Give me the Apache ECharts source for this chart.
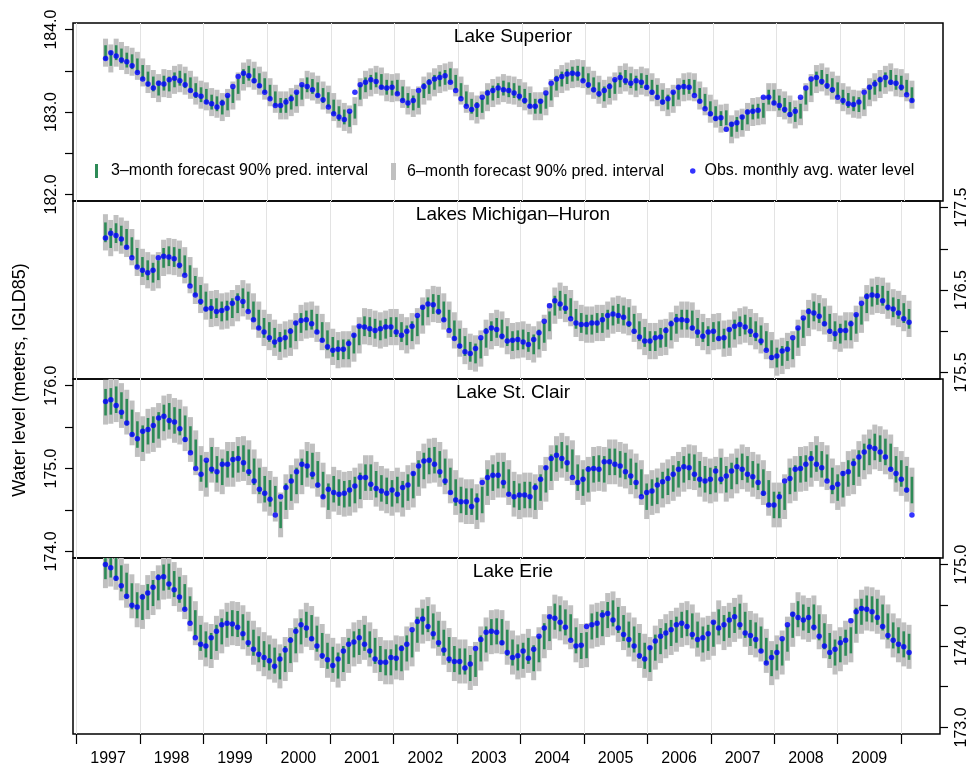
<!DOCTYPE html>
<html>
<head>
<meta charset="utf-8">
<title>Great Lakes water level forecasts</title>
<script src="https://cdn.jsdelivr.net/npm/echarts@6/dist/echarts.min.js"></script>
<style>
  html, body { margin: 0; padding: 0; background: #fff; }
  #chart { width: 970px; height: 767px; }
</style>
</head>
<body>
<div id="chart"></div>
<script>
// monthly values, June 1997 .. February 2010 (153 months)
const firstYear = 1997;
const firstMonth = 5; // 0 = January

const yearTicks = [1997, 1998, 1999, 2000, 2001, 2002, 2003, 2004, 2005, 2006, 2007, 2008, 2009, 2010];
const yearLabels = [1997, 1998, 1999, 2000, 2001, 2002, 2003, 2004, 2005, 2006, 2007, 2008, 2009];

// ---- Lake Superior ----
const supObs = [
  183.65, 183.72, 183.68, 183.63, 183.61, 183.56, 183.48,
  183.40, 183.34, 183.29, 183.35, 183.34, 183.39, 183.41, 183.38, 183.33, 183.26, 183.21, 183.19,
  183.12, 183.10, 183.06, 183.11, 183.20, 183.31, 183.43, 183.47, 183.44, 183.38, 183.32, 183.24,
  183.16, 183.08, 183.08, 183.12, 183.16, 183.24, 183.33, 183.31, 183.27, 183.20, 183.15, 183.06,
  182.98, 182.94, 182.91, 183.01, 183.24, 183.33, 183.36, 183.39, 183.37, 183.30, 183.29, 183.30,
  183.22, 183.14, 183.11, 183.14, 183.26, 183.31, 183.36, 183.40, 183.42, 183.44, 183.36, 183.26,
  183.16, 183.07, 183.03, 183.08, 183.18, 183.23, 183.26, 183.29, 183.27, 183.26, 183.23, 183.19,
  183.14, 183.07, 183.07, 183.13, 183.23, 183.35, 183.40, 183.43, 183.46, 183.47, 183.46, 183.38,
  183.33, 183.27, 183.22, 183.26, 183.31, 183.39, 183.42, 183.38, 183.35, 183.38, 183.36, 183.30,
  183.24, 183.18, 183.12, 183.16, 183.24, 183.30, 183.31, 183.30, 183.20, 183.13, 183.04, 182.98,
  182.92, 182.93, 182.79, 182.85, 182.87, 182.94, 183.00, 183.01, 183.02, 183.18, 183.18, 183.11,
  183.08, 183.03, 182.97, 183.01, 183.18, 183.29, 183.40, 183.42, 183.37, 183.32, 183.27, 183.18,
  183.14, 183.10, 183.09, 183.12, 183.24, 183.30, 183.34, 183.39, 183.42, 183.36, 183.35, 183.30,
  183.21, 183.14
];
const supG3Lo = [
  183.63, 183.56, 183.63, 183.59, 183.54, 183.52, 183.47, 183.39,
  183.31, 183.25, 183.20, 183.26, 183.25, 183.30, 183.32, 183.29, 183.24, 183.17, 183.12, 183.10,
  183.03, 183.01, 182.97, 183.02, 183.11, 183.22, 183.34, 183.38, 183.35, 183.29, 183.23, 183.15,
  183.07, 182.99, 182.99, 183.03, 183.07, 183.15, 183.24, 183.22, 183.18, 183.11, 183.06, 182.97,
  182.89, 182.85, 182.82, 182.92, 183.15, 183.24, 183.27, 183.30, 183.28, 183.21, 183.20, 183.21,
  183.13, 183.05, 183.02, 183.05, 183.17, 183.22, 183.27, 183.31, 183.33, 183.35, 183.27, 183.17,
  183.07, 182.98, 182.94, 182.99, 183.09, 183.14, 183.17, 183.20, 183.18, 183.17, 183.14, 183.10,
  183.05, 182.98, 182.98, 183.04, 183.14, 183.26, 183.31, 183.34, 183.37, 183.38, 183.37, 183.29,
  183.24, 183.18, 183.13, 183.17, 183.22, 183.30, 183.33, 183.29, 183.26, 183.29, 183.27, 183.21,
  183.15, 183.09, 183.03, 183.07, 183.15, 183.21, 183.22, 183.21, 183.11, 183.04, 182.95, 182.89,
  182.83, 182.84, 182.70, 182.76, 182.78, 182.85, 182.91, 182.92, 182.93, 183.09, 183.09, 183.02,
  182.99, 182.94, 182.88, 182.92, 183.09, 183.20, 183.31, 183.33, 183.28, 183.23, 183.18, 183.09,
  183.05, 183.01, 183.00, 183.03, 183.15, 183.21, 183.25, 183.30, 183.33, 183.27, 183.26, 183.21,
  183.12
];
const supG3Hi = [
  183.81, 183.74, 183.81, 183.77, 183.72, 183.70, 183.65, 183.57,
  183.49, 183.43, 183.38, 183.44, 183.43, 183.48, 183.50, 183.47, 183.42, 183.35, 183.30, 183.28,
  183.21, 183.19, 183.15, 183.20, 183.29, 183.40, 183.52, 183.56, 183.53, 183.47, 183.41, 183.33,
  183.25, 183.17, 183.17, 183.21, 183.25, 183.33, 183.42, 183.40, 183.36, 183.29, 183.24, 183.15,
  183.07, 183.03, 183.00, 183.10, 183.33, 183.42, 183.45, 183.48, 183.46, 183.39, 183.38, 183.39,
  183.31, 183.23, 183.20, 183.23, 183.35, 183.40, 183.45, 183.49, 183.51, 183.53, 183.45, 183.35,
  183.25, 183.16, 183.12, 183.17, 183.27, 183.32, 183.35, 183.38, 183.36, 183.35, 183.32, 183.28,
  183.23, 183.16, 183.16, 183.22, 183.32, 183.44, 183.49, 183.52, 183.55, 183.56, 183.55, 183.47,
  183.42, 183.36, 183.31, 183.35, 183.40, 183.48, 183.51, 183.47, 183.44, 183.47, 183.45, 183.39,
  183.33, 183.27, 183.21, 183.25, 183.33, 183.39, 183.40, 183.39, 183.29, 183.22, 183.13, 183.07,
  183.01, 183.02, 182.88, 182.94, 182.96, 183.03, 183.09, 183.10, 183.11, 183.27, 183.27, 183.20,
  183.17, 183.12, 183.06, 183.10, 183.27, 183.38, 183.49, 183.51, 183.46, 183.41, 183.36, 183.27,
  183.23, 183.19, 183.18, 183.21, 183.33, 183.39, 183.43, 183.48, 183.51, 183.45, 183.44, 183.39,
  183.30
];
const supG6Lo = [
  183.55, 183.48, 183.55, 183.51, 183.46, 183.44, 183.39, 183.31,
  183.23, 183.17, 183.12, 183.18, 183.17, 183.22, 183.24, 183.21, 183.16, 183.09, 183.04, 183.02,
  182.95, 182.93, 182.89, 182.94, 183.03, 183.14, 183.26, 183.30, 183.27, 183.21, 183.15, 183.07,
  182.99, 182.91, 182.91, 182.95, 182.99, 183.07, 183.16, 183.14, 183.10, 183.03, 182.98, 182.89,
  182.81, 182.77, 182.74, 182.84, 183.07, 183.16, 183.19, 183.22, 183.20, 183.13, 183.12, 183.13,
  183.05, 182.97, 182.94, 182.97, 183.09, 183.14, 183.19, 183.23, 183.25, 183.27, 183.19, 183.09,
  182.99, 182.90, 182.86, 182.91, 183.01, 183.06, 183.09, 183.12, 183.10, 183.09, 183.06, 183.02,
  182.97, 182.90, 182.90, 182.96, 183.06, 183.18, 183.23, 183.26, 183.29, 183.30, 183.29, 183.21,
  183.16, 183.10, 183.05, 183.09, 183.14, 183.22, 183.25, 183.21, 183.18, 183.21, 183.19, 183.13,
  183.07, 183.01, 182.95, 182.99, 183.07, 183.13, 183.14, 183.13, 183.03, 182.96, 182.87, 182.81,
  182.75, 182.76, 182.62, 182.68, 182.70, 182.77, 182.83, 182.84, 182.85, 183.01, 183.01, 182.94,
  182.91, 182.86, 182.80, 182.84, 183.01, 183.12, 183.23, 183.25, 183.20, 183.15, 183.10, 183.01,
  182.97, 182.93, 182.92, 182.95, 183.07, 183.13, 183.17, 183.22, 183.25, 183.19, 183.18, 183.13,
  183.04
];
const supG6Hi = [
  183.89, 183.82, 183.89, 183.85, 183.80, 183.78, 183.73, 183.65,
  183.57, 183.51, 183.46, 183.52, 183.51, 183.56, 183.58, 183.55, 183.50, 183.43, 183.38, 183.36,
  183.29, 183.27, 183.23, 183.28, 183.37, 183.48, 183.60, 183.64, 183.61, 183.55, 183.49, 183.41,
  183.33, 183.25, 183.25, 183.29, 183.33, 183.41, 183.50, 183.48, 183.44, 183.37, 183.32, 183.23,
  183.15, 183.11, 183.08, 183.18, 183.41, 183.50, 183.53, 183.56, 183.54, 183.47, 183.46, 183.47,
  183.39, 183.31, 183.28, 183.31, 183.43, 183.48, 183.53, 183.57, 183.59, 183.61, 183.53, 183.43,
  183.33, 183.24, 183.20, 183.25, 183.35, 183.40, 183.43, 183.46, 183.44, 183.43, 183.40, 183.36,
  183.31, 183.24, 183.24, 183.30, 183.40, 183.52, 183.57, 183.60, 183.63, 183.64, 183.63, 183.55,
  183.50, 183.44, 183.39, 183.43, 183.48, 183.56, 183.59, 183.55, 183.52, 183.55, 183.53, 183.47,
  183.41, 183.35, 183.29, 183.33, 183.41, 183.47, 183.48, 183.47, 183.37, 183.30, 183.21, 183.15,
  183.09, 183.10, 182.96, 183.02, 183.04, 183.11, 183.17, 183.18, 183.19, 183.35, 183.35, 183.28,
  183.25, 183.20, 183.14, 183.18, 183.35, 183.46, 183.57, 183.59, 183.54, 183.49, 183.44, 183.35,
  183.31, 183.27, 183.26, 183.29, 183.41, 183.47, 183.51, 183.56, 183.59, 183.53, 183.52, 183.47,
  183.38
];

// ---- Lakes Michigan-Huron ----
const mhObs = [
  177.13, 177.19, 177.16, 177.12, 177.02, 176.89, 176.78,
  176.74, 176.71, 176.74, 176.89, 176.91, 176.90, 176.88, 176.80, 176.68, 176.55, 176.44, 176.36,
  176.27, 176.28, 176.24, 176.25, 176.28, 176.34, 176.40, 176.36, 176.24, 176.14, 176.04, 175.99,
  175.92, 175.87, 175.90, 175.92, 176.00, 176.10, 176.13, 176.14, 176.09, 175.99, 175.89, 175.81,
  175.77, 175.78, 175.78, 175.85, 175.95, 176.06, 176.05, 176.03, 176.01, 176.03, 176.05, 176.05,
  175.99, 175.95, 176.00, 176.06, 176.19, 176.29, 176.33, 176.32, 176.24, 176.14, 176.01, 175.91,
  175.82, 175.75, 175.73, 175.79, 175.92, 176.00, 176.04, 176.02, 175.94, 175.88, 175.89, 175.90,
  175.87, 175.84, 175.90, 175.98, 176.12, 176.31, 176.37, 176.33, 176.28, 176.15, 176.10, 176.08,
  176.08, 176.10, 176.10, 176.14, 176.19, 176.21, 176.19, 176.17, 176.09, 176.00, 175.93, 175.88,
  175.88, 175.92, 175.93, 176.01, 176.09, 176.14, 176.14, 176.13, 176.04, 175.99, 175.94, 175.99,
  176.00, 175.91, 175.92, 176.02, 176.06, 176.08, 176.05, 176.00, 175.95, 175.88, 175.77, 175.68,
  175.70, 175.76, 175.78, 175.92, 176.04, 176.16, 176.24, 176.22, 176.18, 176.09, 176.00, 175.97,
  176.01, 176.01, 176.09, 176.20, 176.34, 176.42, 176.44, 176.43, 176.37, 176.29, 176.27, 176.22,
  176.15, 176.11
];
const mhG3Lo = [
  177.08, 177.01, 177.07, 177.04, 177.00, 176.90, 176.77, 176.66,
  176.62, 176.59, 176.62, 176.77, 176.79, 176.78, 176.76, 176.68, 176.56, 176.43, 176.32, 176.24,
  176.15, 176.16, 176.12, 176.13, 176.16, 176.22, 176.28, 176.24, 176.12, 176.02, 175.92, 175.87,
  175.80, 175.75, 175.78, 175.80, 175.88, 175.98, 176.01, 176.02, 175.97, 175.87, 175.77, 175.69,
  175.65, 175.66, 175.66, 175.73, 175.83, 175.94, 175.93, 175.91, 175.89, 175.91, 175.93, 175.93,
  175.87, 175.83, 175.88, 175.94, 176.07, 176.17, 176.21, 176.20, 176.12, 176.02, 175.89, 175.79,
  175.70, 175.63, 175.61, 175.67, 175.80, 175.88, 175.92, 175.90, 175.82, 175.76, 175.77, 175.78,
  175.75, 175.72, 175.78, 175.86, 176.00, 176.19, 176.25, 176.21, 176.16, 176.03, 175.98, 175.96,
  175.96, 175.98, 175.98, 176.02, 176.07, 176.09, 176.07, 176.05, 175.97, 175.88, 175.81, 175.76,
  175.76, 175.80, 175.81, 175.89, 175.97, 176.02, 176.02, 176.01, 175.92, 175.87, 175.82, 175.87,
  175.88, 175.79, 175.80, 175.90, 175.94, 175.96, 175.93, 175.88, 175.83, 175.76, 175.65, 175.56,
  175.58, 175.64, 175.66, 175.80, 175.92, 176.04, 176.12, 176.10, 176.06, 175.97, 175.88, 175.85,
  175.89, 175.89, 175.97, 176.08, 176.22, 176.30, 176.32, 176.31, 176.25, 176.17, 176.15, 176.10,
  176.03
];
const mhG3Hi = [
  177.32, 177.25, 177.31, 177.28, 177.24, 177.14, 177.01, 176.90,
  176.86, 176.83, 176.86, 177.01, 177.03, 177.02, 177.00, 176.92, 176.80, 176.67, 176.56, 176.48,
  176.39, 176.40, 176.36, 176.37, 176.40, 176.46, 176.52, 176.48, 176.36, 176.26, 176.16, 176.11,
  176.04, 175.99, 176.02, 176.04, 176.12, 176.22, 176.25, 176.26, 176.21, 176.11, 176.01, 175.93,
  175.89, 175.90, 175.90, 175.97, 176.07, 176.18, 176.17, 176.15, 176.13, 176.15, 176.17, 176.17,
  176.11, 176.07, 176.12, 176.18, 176.31, 176.41, 176.45, 176.44, 176.36, 176.26, 176.13, 176.03,
  175.94, 175.87, 175.85, 175.91, 176.04, 176.12, 176.16, 176.14, 176.06, 176.00, 176.01, 176.02,
  175.99, 175.96, 176.02, 176.10, 176.24, 176.43, 176.49, 176.45, 176.40, 176.27, 176.22, 176.20,
  176.20, 176.22, 176.22, 176.26, 176.31, 176.33, 176.31, 176.29, 176.21, 176.12, 176.05, 176.00,
  176.00, 176.04, 176.05, 176.13, 176.21, 176.26, 176.26, 176.25, 176.16, 176.11, 176.06, 176.11,
  176.12, 176.03, 176.04, 176.14, 176.18, 176.20, 176.17, 176.12, 176.07, 176.00, 175.89, 175.80,
  175.82, 175.88, 175.90, 176.04, 176.16, 176.28, 176.36, 176.34, 176.30, 176.21, 176.12, 176.09,
  176.13, 176.13, 176.21, 176.32, 176.46, 176.54, 176.56, 176.55, 176.49, 176.41, 176.39, 176.34,
  176.27
];
const mhG6Lo = [
  176.98, 176.91, 176.97, 176.94, 176.90, 176.80, 176.67, 176.56,
  176.52, 176.49, 176.52, 176.67, 176.69, 176.68, 176.66, 176.58, 176.46, 176.33, 176.22, 176.14,
  176.05, 176.06, 176.02, 176.03, 176.06, 176.12, 176.18, 176.14, 176.02, 175.92, 175.82, 175.77,
  175.70, 175.65, 175.68, 175.70, 175.78, 175.88, 175.91, 175.92, 175.87, 175.77, 175.67, 175.59,
  175.55, 175.56, 175.56, 175.63, 175.73, 175.84, 175.83, 175.81, 175.79, 175.81, 175.83, 175.83,
  175.77, 175.73, 175.78, 175.84, 175.97, 176.07, 176.11, 176.10, 176.02, 175.92, 175.79, 175.69,
  175.60, 175.53, 175.51, 175.57, 175.70, 175.78, 175.82, 175.80, 175.72, 175.66, 175.67, 175.68,
  175.65, 175.62, 175.68, 175.76, 175.90, 176.09, 176.15, 176.11, 176.06, 175.93, 175.88, 175.86,
  175.86, 175.88, 175.88, 175.92, 175.97, 175.99, 175.97, 175.95, 175.87, 175.78, 175.71, 175.66,
  175.66, 175.70, 175.71, 175.79, 175.87, 175.92, 175.92, 175.91, 175.82, 175.77, 175.72, 175.77,
  175.78, 175.69, 175.70, 175.80, 175.84, 175.86, 175.83, 175.78, 175.73, 175.66, 175.55, 175.46,
  175.48, 175.54, 175.56, 175.70, 175.82, 175.94, 176.02, 176.00, 175.96, 175.87, 175.78, 175.75,
  175.79, 175.79, 175.87, 175.98, 176.12, 176.20, 176.22, 176.21, 176.15, 176.07, 176.05, 176.00,
  175.93
];
const mhG6Hi = [
  177.42, 177.35, 177.41, 177.38, 177.34, 177.24, 177.11, 177.00,
  176.96, 176.93, 176.96, 177.11, 177.13, 177.12, 177.10, 177.02, 176.90, 176.77, 176.66, 176.58,
  176.49, 176.50, 176.46, 176.47, 176.50, 176.56, 176.62, 176.58, 176.46, 176.36, 176.26, 176.21,
  176.14, 176.09, 176.12, 176.14, 176.22, 176.32, 176.35, 176.36, 176.31, 176.21, 176.11, 176.03,
  175.99, 176.00, 176.00, 176.07, 176.17, 176.28, 176.27, 176.25, 176.23, 176.25, 176.27, 176.27,
  176.21, 176.17, 176.22, 176.28, 176.41, 176.51, 176.55, 176.54, 176.46, 176.36, 176.23, 176.13,
  176.04, 175.97, 175.95, 176.01, 176.14, 176.22, 176.26, 176.24, 176.16, 176.10, 176.11, 176.12,
  176.09, 176.06, 176.12, 176.20, 176.34, 176.53, 176.59, 176.55, 176.50, 176.37, 176.32, 176.30,
  176.30, 176.32, 176.32, 176.36, 176.41, 176.43, 176.41, 176.39, 176.31, 176.22, 176.15, 176.10,
  176.10, 176.14, 176.15, 176.23, 176.31, 176.36, 176.36, 176.35, 176.26, 176.21, 176.16, 176.21,
  176.22, 176.13, 176.14, 176.24, 176.28, 176.30, 176.27, 176.22, 176.17, 176.10, 175.99, 175.90,
  175.92, 175.98, 176.00, 176.14, 176.26, 176.38, 176.46, 176.44, 176.40, 176.31, 176.22, 176.19,
  176.23, 176.23, 176.31, 176.42, 176.56, 176.64, 176.66, 176.65, 176.59, 176.51, 176.49, 176.44,
  176.37
];

// ---- Lake St. Clair ----
const scObs = [
  175.81, 175.83, 175.76, 175.68, 175.55, 175.41, 175.36,
  175.45, 175.47, 175.52, 175.61, 175.63, 175.58, 175.56, 175.48, 175.35, 175.19, 175.00, 174.93,
  175.10, 174.99, 174.96, 175.05, 175.05, 175.11, 175.12, 175.07, 174.96, 174.85, 174.75, 174.70,
  174.63, 174.44, 174.66, 174.77, 174.85, 174.96, 175.05, 175.03, 174.93, 174.80, 174.66, 174.75,
  174.71, 174.69, 174.70, 174.74, 174.79, 174.89, 174.89, 174.81, 174.76, 174.73, 174.70, 174.74,
  174.69, 174.77, 174.80, 174.94, 175.03, 175.09, 175.10, 175.05, 174.96, 174.85, 174.71, 174.62,
  174.60, 174.60, 174.54, 174.62, 174.83, 174.89, 174.92, 174.92, 174.83, 174.69, 174.66, 174.68,
  174.68, 174.66, 174.77, 174.87, 175.01, 175.12, 175.16, 175.12, 175.07, 174.89, 174.83, 174.87,
  174.99, 175.00, 174.99, 175.08, 175.08, 175.05, 175.03, 174.96, 174.91, 174.83, 174.66, 174.71,
  174.73, 174.80, 174.84, 174.88, 174.93, 174.99, 175.02, 175.01, 174.93, 174.87, 174.85, 174.87,
  174.97, 174.87, 174.91, 174.97, 175.02, 174.99, 174.93, 174.90, 174.83, 174.70, 174.56, 174.56,
  174.66, 174.85, 174.88, 174.99, 175.00, 175.05, 175.12, 175.05, 175.01, 174.85, 174.77, 174.81,
  174.94, 174.96, 175.06, 175.14, 175.20, 175.26, 175.24, 175.20, 175.14, 174.99, 174.94, 174.87,
  174.74, 174.44
];
const scG3Lo = [
  175.64, 175.65, 175.67, 175.60, 175.52, 175.39, 175.25, 175.20,
  175.29, 175.31, 175.36, 175.45, 175.47, 175.42, 175.40, 175.32, 175.19, 175.03, 174.84, 174.77,
  174.94, 174.83, 174.80, 174.89, 174.89, 174.95, 174.96, 174.91, 174.80, 174.69, 174.59, 174.54,
  174.47, 174.28, 174.50, 174.61, 174.69, 174.80, 174.89, 174.87, 174.77, 174.64, 174.50, 174.59,
  174.55, 174.53, 174.54, 174.58, 174.63, 174.73, 174.73, 174.65, 174.60, 174.57, 174.54, 174.58,
  174.53, 174.61, 174.64, 174.78, 174.87, 174.93, 174.94, 174.89, 174.80, 174.69, 174.55, 174.46,
  174.44, 174.44, 174.38, 174.46, 174.67, 174.73, 174.76, 174.76, 174.67, 174.53, 174.50, 174.52,
  174.52, 174.50, 174.61, 174.71, 174.85, 174.96, 175.00, 174.96, 174.91, 174.73, 174.67, 174.71,
  174.83, 174.84, 174.83, 174.92, 174.92, 174.89, 174.87, 174.80, 174.75, 174.67, 174.50, 174.55,
  174.57, 174.64, 174.68, 174.72, 174.77, 174.83, 174.86, 174.85, 174.77, 174.71, 174.69, 174.71,
  174.81, 174.71, 174.75, 174.81, 174.86, 174.83, 174.77, 174.74, 174.67, 174.54, 174.40, 174.40,
  174.50, 174.69, 174.72, 174.83, 174.84, 174.89, 174.96, 174.89, 174.85, 174.69, 174.61, 174.65,
  174.78, 174.80, 174.90, 174.98, 175.04, 175.10, 175.08, 175.04, 174.98, 174.83, 174.78, 174.71,
  174.58
];
const scG3Hi = [
  175.96, 175.97, 175.99, 175.92, 175.84, 175.71, 175.57, 175.52,
  175.61, 175.63, 175.68, 175.77, 175.79, 175.74, 175.72, 175.64, 175.51, 175.35, 175.16, 175.09,
  175.26, 175.15, 175.12, 175.21, 175.21, 175.27, 175.28, 175.23, 175.12, 175.01, 174.91, 174.86,
  174.79, 174.60, 174.82, 174.93, 175.01, 175.12, 175.21, 175.19, 175.09, 174.96, 174.82, 174.91,
  174.87, 174.85, 174.86, 174.90, 174.95, 175.05, 175.05, 174.97, 174.92, 174.89, 174.86, 174.90,
  174.85, 174.93, 174.96, 175.10, 175.19, 175.25, 175.26, 175.21, 175.12, 175.01, 174.87, 174.78,
  174.76, 174.76, 174.70, 174.78, 174.99, 175.05, 175.08, 175.08, 174.99, 174.85, 174.82, 174.84,
  174.84, 174.82, 174.93, 175.03, 175.17, 175.28, 175.32, 175.28, 175.23, 175.05, 174.99, 175.03,
  175.15, 175.16, 175.15, 175.24, 175.24, 175.21, 175.19, 175.12, 175.07, 174.99, 174.82, 174.87,
  174.89, 174.96, 175.00, 175.04, 175.09, 175.15, 175.18, 175.17, 175.09, 175.03, 175.01, 175.03,
  175.13, 175.03, 175.07, 175.13, 175.18, 175.15, 175.09, 175.06, 174.99, 174.86, 174.72, 174.72,
  174.82, 175.01, 175.04, 175.15, 175.16, 175.21, 175.28, 175.21, 175.17, 175.01, 174.93, 174.97,
  175.10, 175.12, 175.22, 175.30, 175.36, 175.42, 175.40, 175.36, 175.30, 175.15, 175.10, 175.03,
  174.90
];
const scG6Lo = [
  175.53, 175.54, 175.56, 175.49, 175.41, 175.28, 175.14, 175.09,
  175.18, 175.20, 175.25, 175.34, 175.36, 175.31, 175.29, 175.21, 175.08, 174.92, 174.73, 174.66,
  174.83, 174.72, 174.69, 174.78, 174.78, 174.84, 174.85, 174.80, 174.69, 174.58, 174.48, 174.43,
  174.36, 174.17, 174.39, 174.50, 174.58, 174.69, 174.78, 174.76, 174.66, 174.53, 174.39, 174.48,
  174.44, 174.42, 174.43, 174.47, 174.52, 174.62, 174.62, 174.54, 174.49, 174.46, 174.43, 174.47,
  174.42, 174.50, 174.53, 174.67, 174.76, 174.82, 174.83, 174.78, 174.69, 174.58, 174.44, 174.35,
  174.33, 174.33, 174.27, 174.35, 174.56, 174.62, 174.65, 174.65, 174.56, 174.42, 174.39, 174.41,
  174.41, 174.39, 174.50, 174.60, 174.74, 174.85, 174.89, 174.85, 174.80, 174.62, 174.56, 174.60,
  174.72, 174.73, 174.72, 174.81, 174.81, 174.78, 174.76, 174.69, 174.64, 174.56, 174.39, 174.44,
  174.46, 174.53, 174.57, 174.61, 174.66, 174.72, 174.75, 174.74, 174.66, 174.60, 174.58, 174.60,
  174.70, 174.60, 174.64, 174.70, 174.75, 174.72, 174.66, 174.63, 174.56, 174.43, 174.29, 174.29,
  174.39, 174.58, 174.61, 174.72, 174.73, 174.78, 174.85, 174.78, 174.74, 174.58, 174.50, 174.54,
  174.67, 174.69, 174.79, 174.87, 174.93, 174.99, 174.97, 174.93, 174.87, 174.72, 174.67, 174.60,
  174.47
];
const scG6Hi = [
  176.07, 176.08, 176.10, 176.03, 175.95, 175.82, 175.68, 175.63,
  175.72, 175.74, 175.79, 175.88, 175.90, 175.85, 175.83, 175.75, 175.62, 175.46, 175.27, 175.20,
  175.37, 175.26, 175.23, 175.32, 175.32, 175.38, 175.39, 175.34, 175.23, 175.12, 175.02, 174.97,
  174.90, 174.71, 174.93, 175.04, 175.12, 175.23, 175.32, 175.30, 175.20, 175.07, 174.93, 175.02,
  174.98, 174.96, 174.97, 175.01, 175.06, 175.16, 175.16, 175.08, 175.03, 175.00, 174.97, 175.01,
  174.96, 175.04, 175.07, 175.21, 175.30, 175.36, 175.37, 175.32, 175.23, 175.12, 174.98, 174.89,
  174.87, 174.87, 174.81, 174.89, 175.10, 175.16, 175.19, 175.19, 175.10, 174.96, 174.93, 174.95,
  174.95, 174.93, 175.04, 175.14, 175.28, 175.39, 175.43, 175.39, 175.34, 175.16, 175.10, 175.14,
  175.26, 175.27, 175.26, 175.35, 175.35, 175.32, 175.30, 175.23, 175.18, 175.10, 174.93, 174.98,
  175.00, 175.07, 175.11, 175.15, 175.20, 175.26, 175.29, 175.28, 175.20, 175.14, 175.12, 175.14,
  175.24, 175.14, 175.18, 175.24, 175.29, 175.26, 175.20, 175.17, 175.10, 174.97, 174.83, 174.83,
  174.93, 175.12, 175.15, 175.26, 175.27, 175.32, 175.39, 175.32, 175.28, 175.12, 175.04, 175.08,
  175.21, 175.23, 175.33, 175.41, 175.47, 175.53, 175.51, 175.47, 175.41, 175.26, 175.21, 175.14,
  175.01
];

// ---- Lake Erie ----
const erObs = [
  175.00, 174.96, 174.83, 174.74, 174.61, 174.50, 174.48,
  174.60, 174.65, 174.72, 174.84, 174.85, 174.76, 174.69, 174.60, 174.45, 174.28, 174.10, 174.02,
  174.00, 174.10, 174.18, 174.26, 174.28, 174.27, 174.23, 174.15, 174.04, 173.96, 173.90, 173.86,
  173.82, 173.75, 173.84, 173.95, 174.07, 174.18, 174.26, 174.22, 174.09, 174.00, 173.88, 173.83,
  173.76, 173.84, 173.94, 174.02, 174.05, 174.10, 174.02, 173.94, 173.84, 173.80, 173.80, 173.86,
  173.85, 173.97, 174.02, 174.20, 174.30, 174.33, 174.24, 174.15, 174.04, 173.95, 173.84, 173.81,
  173.81, 173.73, 173.78, 173.97, 174.08, 174.17, 174.18, 174.17, 174.04, 173.92, 173.86, 173.88,
  173.94, 173.85, 173.96, 174.12, 174.22, 174.36, 174.34, 174.29, 174.23, 174.07, 174.00, 174.01,
  174.24, 174.26, 174.28, 174.38, 174.40, 174.32, 174.22, 174.14, 174.08, 174.00, 173.88, 173.84,
  173.98, 174.06, 174.12, 174.16, 174.20, 174.26, 174.28, 174.24, 174.14, 174.08, 174.10, 174.15,
  174.29, 174.22, 174.26, 174.32, 174.36, 174.26, 174.16, 174.13, 174.08, 173.94, 173.79, 173.86,
  173.92, 174.09, 174.26, 174.39, 174.35, 174.32, 174.35, 174.23, 174.12, 174.00, 173.92, 173.96,
  174.04, 174.07, 174.31, 174.42, 174.46, 174.45, 174.42, 174.35, 174.24, 174.13, 174.07, 174.02,
  173.99, 173.92
];
const erG3Lo = [
  174.82, 174.84, 174.80, 174.67, 174.58, 174.45, 174.34, 174.32,
  174.44, 174.49, 174.56, 174.68, 174.69, 174.60, 174.53, 174.44, 174.29, 174.12, 173.94, 173.86,
  173.84, 173.94, 174.02, 174.10, 174.12, 174.11, 174.07, 173.99, 173.88, 173.80, 173.74, 173.70,
  173.66, 173.59, 173.68, 173.79, 173.91, 174.02, 174.10, 174.06, 173.93, 173.84, 173.72, 173.67,
  173.60, 173.68, 173.78, 173.86, 173.89, 173.94, 173.86, 173.78, 173.68, 173.64, 173.64, 173.70,
  173.69, 173.81, 173.86, 174.04, 174.14, 174.17, 174.08, 173.99, 173.88, 173.79, 173.68, 173.65,
  173.65, 173.57, 173.62, 173.81, 173.92, 174.01, 174.02, 174.01, 173.88, 173.76, 173.70, 173.72,
  173.78, 173.69, 173.80, 173.96, 174.06, 174.20, 174.18, 174.13, 174.07, 173.91, 173.84, 173.85,
  174.08, 174.10, 174.12, 174.22, 174.24, 174.16, 174.06, 173.98, 173.92, 173.84, 173.72, 173.68,
  173.82, 173.90, 173.96, 174.00, 174.04, 174.10, 174.12, 174.08, 173.98, 173.92, 173.94, 173.99,
  174.13, 174.06, 174.10, 174.16, 174.20, 174.10, 174.00, 173.97, 173.92, 173.78, 173.63, 173.70,
  173.76, 173.93, 174.10, 174.23, 174.19, 174.16, 174.19, 174.07, 173.96, 173.84, 173.76, 173.80,
  173.88, 173.91, 174.15, 174.26, 174.30, 174.29, 174.26, 174.19, 174.08, 173.97, 173.91, 173.86,
  173.83
];
const erG3Hi = [
  175.14, 175.16, 175.12, 174.99, 174.90, 174.77, 174.66, 174.64,
  174.76, 174.81, 174.88, 175.00, 175.01, 174.92, 174.85, 174.76, 174.61, 174.44, 174.26, 174.18,
  174.16, 174.26, 174.34, 174.42, 174.44, 174.43, 174.39, 174.31, 174.20, 174.12, 174.06, 174.02,
  173.98, 173.91, 174.00, 174.11, 174.23, 174.34, 174.42, 174.38, 174.25, 174.16, 174.04, 173.99,
  173.92, 174.00, 174.10, 174.18, 174.21, 174.26, 174.18, 174.10, 174.00, 173.96, 173.96, 174.02,
  174.01, 174.13, 174.18, 174.36, 174.46, 174.49, 174.40, 174.31, 174.20, 174.11, 174.00, 173.97,
  173.97, 173.89, 173.94, 174.13, 174.24, 174.33, 174.34, 174.33, 174.20, 174.08, 174.02, 174.04,
  174.10, 174.01, 174.12, 174.28, 174.38, 174.52, 174.50, 174.45, 174.39, 174.23, 174.16, 174.17,
  174.40, 174.42, 174.44, 174.54, 174.56, 174.48, 174.38, 174.30, 174.24, 174.16, 174.04, 174.00,
  174.14, 174.22, 174.28, 174.32, 174.36, 174.42, 174.44, 174.40, 174.30, 174.24, 174.26, 174.31,
  174.45, 174.38, 174.42, 174.48, 174.52, 174.42, 174.32, 174.29, 174.24, 174.10, 173.95, 174.02,
  174.08, 174.25, 174.42, 174.55, 174.51, 174.48, 174.51, 174.39, 174.28, 174.16, 174.08, 174.12,
  174.20, 174.23, 174.47, 174.58, 174.62, 174.61, 174.58, 174.51, 174.40, 174.29, 174.23, 174.18,
  174.15
];
const erG6Lo = [
  174.71, 174.73, 174.69, 174.56, 174.47, 174.34, 174.23, 174.21,
  174.33, 174.38, 174.45, 174.57, 174.58, 174.49, 174.42, 174.33, 174.18, 174.01, 173.83, 173.75,
  173.73, 173.83, 173.91, 173.99, 174.01, 174.00, 173.96, 173.88, 173.77, 173.69, 173.63, 173.59,
  173.55, 173.48, 173.57, 173.68, 173.80, 173.91, 173.99, 173.95, 173.82, 173.73, 173.61, 173.56,
  173.49, 173.57, 173.67, 173.75, 173.78, 173.83, 173.75, 173.67, 173.57, 173.53, 173.53, 173.59,
  173.58, 173.70, 173.75, 173.93, 174.03, 174.06, 173.97, 173.88, 173.77, 173.68, 173.57, 173.54,
  173.54, 173.46, 173.51, 173.70, 173.81, 173.90, 173.91, 173.90, 173.77, 173.65, 173.59, 173.61,
  173.67, 173.58, 173.69, 173.85, 173.95, 174.09, 174.07, 174.02, 173.96, 173.80, 173.73, 173.74,
  173.97, 173.99, 174.01, 174.11, 174.13, 174.05, 173.95, 173.87, 173.81, 173.73, 173.61, 173.57,
  173.71, 173.79, 173.85, 173.89, 173.93, 173.99, 174.01, 173.97, 173.87, 173.81, 173.83, 173.88,
  174.02, 173.95, 173.99, 174.05, 174.09, 173.99, 173.89, 173.86, 173.81, 173.67, 173.52, 173.59,
  173.65, 173.82, 173.99, 174.12, 174.08, 174.05, 174.08, 173.96, 173.85, 173.73, 173.65, 173.69,
  173.77, 173.80, 174.04, 174.15, 174.19, 174.18, 174.15, 174.08, 173.97, 173.86, 173.80, 173.75,
  173.72
];
const erG6Hi = [
  175.25, 175.27, 175.23, 175.10, 175.01, 174.88, 174.77, 174.75,
  174.87, 174.92, 174.99, 175.11, 175.12, 175.03, 174.96, 174.87, 174.72, 174.55, 174.37, 174.29,
  174.27, 174.37, 174.45, 174.53, 174.55, 174.54, 174.50, 174.42, 174.31, 174.23, 174.17, 174.13,
  174.09, 174.02, 174.11, 174.22, 174.34, 174.45, 174.53, 174.49, 174.36, 174.27, 174.15, 174.10,
  174.03, 174.11, 174.21, 174.29, 174.32, 174.37, 174.29, 174.21, 174.11, 174.07, 174.07, 174.13,
  174.12, 174.24, 174.29, 174.47, 174.57, 174.60, 174.51, 174.42, 174.31, 174.22, 174.11, 174.08,
  174.08, 174.00, 174.05, 174.24, 174.35, 174.44, 174.45, 174.44, 174.31, 174.19, 174.13, 174.15,
  174.21, 174.12, 174.23, 174.39, 174.49, 174.63, 174.61, 174.56, 174.50, 174.34, 174.27, 174.28,
  174.51, 174.53, 174.55, 174.65, 174.67, 174.59, 174.49, 174.41, 174.35, 174.27, 174.15, 174.11,
  174.25, 174.33, 174.39, 174.43, 174.47, 174.53, 174.55, 174.51, 174.41, 174.35, 174.37, 174.42,
  174.56, 174.49, 174.53, 174.59, 174.63, 174.53, 174.43, 174.40, 174.35, 174.21, 174.06, 174.13,
  174.19, 174.36, 174.53, 174.66, 174.62, 174.59, 174.62, 174.50, 174.39, 174.27, 174.19, 174.23,
  174.31, 174.34, 174.58, 174.69, 174.73, 174.72, 174.69, 174.62, 174.51, 174.40, 174.34, 174.29,
  174.26
];

const lakes = [
  { title: 'Lake Superior', obs: supObs, g3Lo: supG3Lo, g3Hi: supG3Hi, g6Lo: supG6Lo, g6Hi: supG6Hi,
    range: [181.92, 184.08], ticks: [182, 182.5, 183, 183.5, 184], labels: [182, 183, 184], side: 'left' },
  { title: 'Lakes Michigan–Huron', obs: mhObs, g3Lo: mhG3Lo, g3Hi: mhG3Hi, g6Lo: mhG6Lo, g6Hi: mhG6Hi,
    range: [175.42, 177.58], ticks: [175.5, 176, 176.5, 177, 177.5], labels: [175.5, 176.5, 177.5], side: 'right' },
  { title: 'Lake St. Clair', obs: scObs, g3Lo: scG3Lo, g3Hi: scG3Hi, g6Lo: scG6Lo, g6Hi: scG6Hi,
    range: [173.92, 176.08], ticks: [174, 174.5, 175, 175.5, 176], labels: [174, 175, 176], side: 'left' },
  { title: 'Lake Erie', obs: erObs, g3Lo: erG3Lo, g3Hi: erG3Hi, g6Lo: erG6Lo, g6Hi: erG6Hi,
    range: [172.92, 175.08], ticks: [173, 173.5, 174, 174.5, 175], labels: [173, 174, 175], side: 'right' }
];

const NAME3 = '3–month forecast 90% pred. interval';
const NAME6 = '6–month forecast 90% pred. interval';
const NAMEOBS = 'Obs. monthly avg. water level';

const GREEN = '#2e8b57';
const GRAY = '#c0c0c0';
const BLUE = '#0000ff';
const FONT = '"Liberation Sans", Arial, Helvetica, sans-serif';

// layout of the four stacked panels
const plotLeft = 73;
const plotRight = 27;
const panelTops = [23, 201, 379, 558];
const panelHeights = [178, 178, 179, 179];

const monthTime = supObs.map((_, i) => firstYear + (firstMonth + i + 0.5) / 12);

function intervalBar(width) {
  return function (params, api) {
    const hi = api.coord([api.value(0), api.value(2)]);
    const lo = api.coord([api.value(0), api.value(1)]);
    return {
      type: 'rect',
      shape: { x: hi[0] - width / 2, y: hi[1], width: width, height: lo[1] - hi[1] },
      style: { fill: api.visual('color') }
    };
  };
}

const grids = [], xAxes = [], yAxes = [], series = [], titles = [];

lakes.forEach(function (lake, p) {
  const last = p === lakes.length - 1;
  grids.push({
    left: plotLeft, right: plotRight, top: panelTops[p], height: panelHeights[p],
    show: true, borderColor: '#000', borderWidth: 1.5, backgroundColor: 'transparent'
  });
  xAxes.push({
    gridIndex: p, type: 'value', min: 1996.947, max: 2010.613,
    axisLine: { show: false },
    axisTick: { show: last, customValues: yearTicks, length: 10, lineStyle: { color: '#000', width: 1.2 } },
    axisLabel: {
      show: last, customValues: yearLabels.map(y => y + 0.5), margin: 17,
      formatter: v => String(Math.floor(v)), fontSize: 16, color: '#000', fontFamily: FONT
    },
    splitLine: { show: true, lineStyle: { color: '#e3e3e3', width: 1 } }
  });
  yAxes.push({
    gridIndex: p, type: 'value', position: lake.side, min: lake.range[0], max: lake.range[1],
    axisLine: { show: false },
    axisTick: { show: true, customValues: lake.ticks, length: 8, lineStyle: { color: '#000', width: 1.2 } },
    axisLabel: {
      customValues: lake.labels, rotate: 90, margin: lake.side === 'left' ? 13 : 14,
      formatter: v => v.toFixed(1), fontSize: 16, color: '#000', fontFamily: FONT
    },
    splitLine: { show: false }
  });
  titles.push({
    text: lake.title, left: 508, top: panelTops[p] - 1, textAlign: 'center',
    textStyle: { fontSize: 19, fontWeight: 'normal', color: '#000', fontFamily: FONT }
  });

  const gray = lake.obs.map((_, i) => [monthTime[i], lake.g6Lo[i], lake.g6Hi[i]]);
  const green = lake.obs.map((_, i) => [monthTime[i], lake.g3Lo[i], lake.g3Hi[i]]);
  const dots = lake.obs.map((v, i) => [monthTime[i], v]);

  series.push({
    name: NAME6, type: 'custom', xAxisIndex: p, yAxisIndex: p, data: gray,
    renderItem: intervalBar(5), encode: { x: 0, y: [1, 2] },
    itemStyle: { color: GRAY }, clip: true, z: 1, silent: true
  });
  series.push({
    name: NAME3, type: 'custom', xAxisIndex: p, yAxisIndex: p, data: green,
    renderItem: intervalBar(2.6), encode: { x: 0, y: [1, 2] },
    itemStyle: { color: GREEN }, clip: true, z: 2, silent: true
  });
  series.push({
    name: NAMEOBS, type: 'scatter', xAxisIndex: p, yAxisIndex: p, data: dots,
    symbol: 'circle', symbolSize: 5.5, itemStyle: { color: BLUE }, z: 3, silent: true
  });
});

const legendText = { fontSize: 16, color: '#000', fontFamily: FONT };

const option = {
  animation: false,
  backgroundColor: '#fff',
  title: titles,
  grid: grids,
  xAxis: xAxes,
  yAxis: yAxes,
  legend: [
    { data: [{ name: NAME3, icon: 'rect', itemStyle: { color: GREEN } }], left: 90, top: 158,
      itemWidth: 3, itemHeight: 14, selectedMode: false, textStyle: Object.assign({ padding: [0, 0, 0, 8] }, legendText) },
    { data: [{ name: NAME6, icon: 'rect', itemStyle: { color: GRAY } }], left: 386, top: 158,
      itemWidth: 5, itemHeight: 17, selectedMode: false, textStyle: Object.assign({ padding: [0, 0, 0, 6] }, legendText) },
    { data: [{ name: NAMEOBS, icon: 'circle', itemStyle: { color: BLUE } }], left: 685, top: 158,
      itemWidth: 5.5, itemHeight: 5.5, selectedMode: false, textStyle: Object.assign({ padding: [0, 0, 0, 4] }, legendText) }
  ],
  graphic: [{
    type: 'text', x: 20, y: 380, rotation: Math.PI / 2,
    style: { text: 'Water level (meters, IGLD85)', fontSize: 18, fontFamily: FONT, fill: '#000', align: 'center', verticalAlign: 'middle' }
  }],
  series: series
};

const chart = echarts.init(document.getElementById('chart'), null, { renderer: 'canvas' });
chart.setOption(option);
</script>
</body>
</html>
